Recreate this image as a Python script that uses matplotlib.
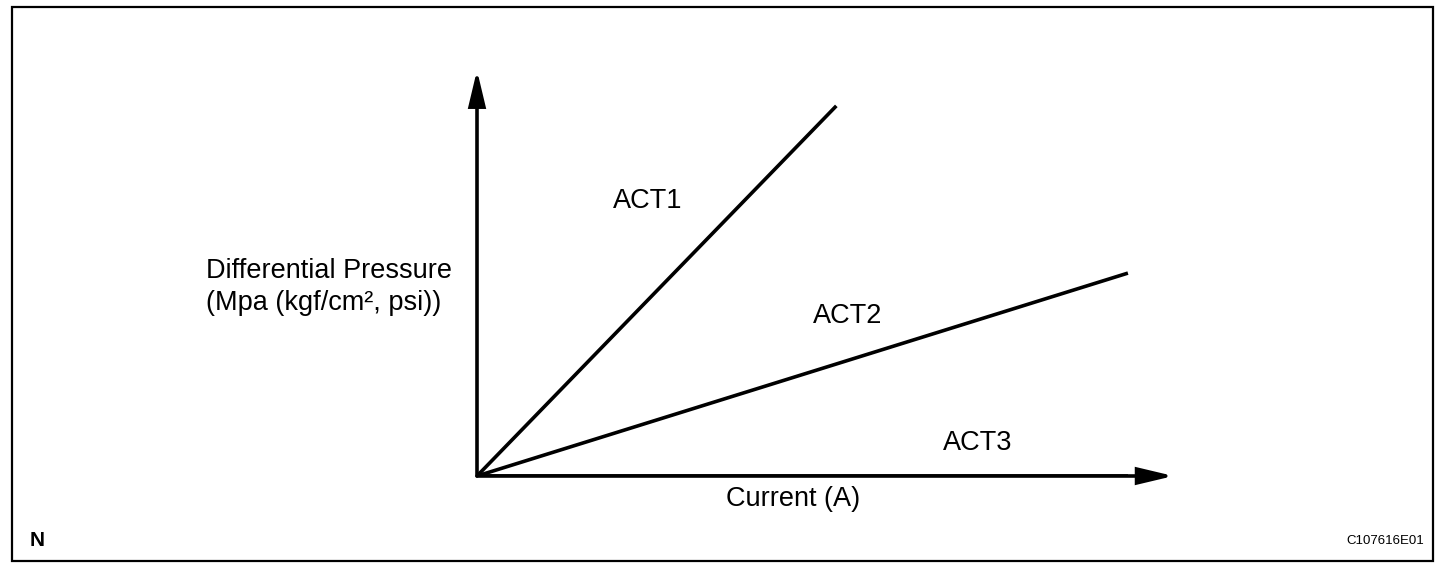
import matplotlib
matplotlib.use("Agg")
import matplotlib.pyplot as plt
from matplotlib.patches import Rectangle

# ---- data (arbitrary units) ----
series_names = ["ACT1", "ACT2", "ACT3"]
act1_current = [0.0, 5.2]
act1_pressure = [0.0, 9.23]
act2_current = [0.0, 9.42]
act2_pressure = [0.0, 5.06]
act3_current = [0.0, 9.42]
act3_pressure = [0.0, 0.0]
x_label = "Current (A)"
y_label = "Differential Pressure\n(Mpa (kgf/cm², psi))"
corner_left = "N"
corner_right = "C107616E01"

W, H = 1456, 574
fig = plt.figure(figsize=(W / 100, H / 100), dpi=100)
plt.rcParams['font.family'] = ['Liberation Sans', 'DejaVu Sans']

# outer frame
fig.patches.append(Rectangle((12 / W, 1 - 561 / H), (1433 - 12) / W, (561 - 7) / H,
                             transform=fig.transFigure, fill=False, lw=1.6,
                             edgecolor='black', zorder=0))

# axes: origin at pixel (477, 476), x to 1168 px, y to 75 px
ox, oy = 477, 476
ax = fig.add_axes([ox / W, 1 - oy / H, (1168 - ox) / W, (oy - 75) / H])
ax.set_xlim(0, 10)
ax.set_ylim(0, 10)
ax.axis('off')

lw = 2.6
ax.plot(act1_current, act1_pressure, color='black', lw=lw, solid_capstyle='butt')
ax.plot(act2_current, act2_pressure, color='black', lw=lw, solid_capstyle='butt')
ax.plot(act3_current, act3_pressure, color='black', lw=lw, solid_capstyle='butt')

arrow_style = dict(arrowstyle='-|>,head_length=2.1,head_width=0.5', color='black',
                   lw=lw, shrinkA=0, shrinkB=0, mutation_scale=10,
                   joinstyle='miter')
ax.annotate('', xy=(10.08, 0), xytext=(0, 0), xycoords='data', arrowprops=arrow_style,
            annotation_clip=False)
ax.annotate('', xy=(0, 10.12), xytext=(0, 0), xycoords='data', arrowprops=arrow_style,
            annotation_clip=False)

fs = 19.5
fig.text(648 / W, 1 - 201 / H, series_names[0], ha='center', va='center', fontsize=fs)
fig.text(848 / W, 1 - 316 / H, series_names[1], ha='center', va='center', fontsize=fs)
fig.text(978 / W, 1 - 443 / H, series_names[2], ha='center', va='center', fontsize=fs)
fig.text(793 / W, 1 - 499 / H, x_label, ha='center', va='center', fontsize=fs)
fig.text(206 / W, 1 - 287 / H, y_label, ha='left', va='center', fontsize=fs,
         linespacing=1.3)
fig.text(30 / W, 1 - 541 / H, corner_left, ha='left', va='center', fontsize=15,
         fontweight='bold')
fig.text(1424 / W, 1 - 541 / H, corner_right, ha='right', va='center', fontsize=9.5)

fig.savefig("out.png", dpi=100)
